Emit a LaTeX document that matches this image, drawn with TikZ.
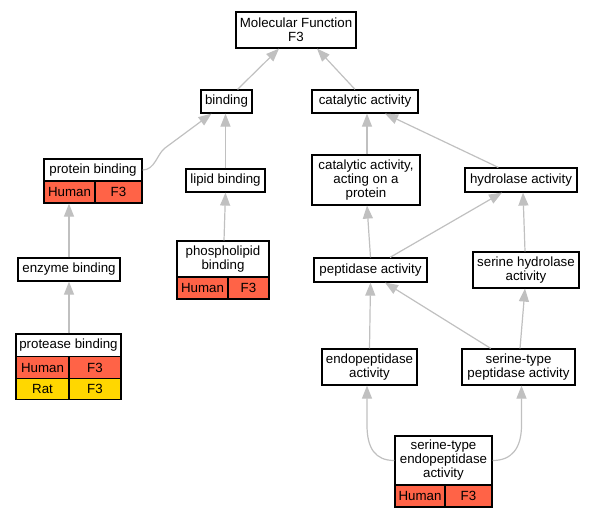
\documentclass[tikz,border=0pt]{standalone}
\usepackage{fontspec}
\setmainfont{Liberation Sans}
\usetikzlibrary{arrows.meta}
\definecolor{edgegray}{HTML}{C0C0C0}
\definecolor{tomatored}{HTML}{FF6347}
\definecolor{goldy}{HTML}{FFD700}
\begin{document}
\begin{tikzpicture}[x=1pt,y=-1pt, font=\fontsize{13.3}{14}\selectfont,
  box/.style={draw=black, line width=1.2pt, fill=white, inner sep=0pt, align=center, anchor=center},
  human/.style={box, fill=tomatored},
  rat/.style={box, fill=goldy},
  isa/.style={draw=edgegray, line width=1.2pt, -{Triangle[length=13pt,width=10pt]}}]
\useasboundingbox (0,0) rectangle (593,517);
% nodes
\node[box, minimum width=120, minimum height=36] (mf) at (296,30) {Molecular Function\\F3};
\node[box, minimum width=51, minimum height=23] (bind) at (226.5,101.5) {binding};
\node[box, minimum width=106, minimum height=23] (cat) at (365,101.5) {catalytic activity};
\node[box, minimum width=98, minimum height=22] (pbh) at (93,170) {protein binding};
\node[human, minimum width=51, minimum height=22] (pbhu) at (69.5,192) {Human};
\node[human, minimum width=47, minimum height=22] (pbf) at (118.5,192) {F3};
\node[box, minimum width=79, minimum height=23] (lip) at (225.5,180.5) {lipid binding};
\node[box, minimum width=108, minimum height=50] (cap) at (366,180) {catalytic activity,\\acting on a\\protein};
\node[box, minimum width=112, minimum height=24] (hyd) at (521,180) {hydrolase activity};
\node[box, minimum width=102, minimum height=23] (enz) at (69,269.5) {enzyme binding};
\node[box, minimum width=92, minimum height=36] (phh) at (223,259) {phospholipid\\binding};
\node[human, minimum width=51, minimum height=22] (phhu) at (202.5,288) {Human};
\node[human, minimum width=41, minimum height=22] (phf) at (248.5,288) {F3};
\node[box, minimum width=105, minimum height=23] (proh) at (68.5,345.5) {protease binding};
\node[human, minimum width=53, minimum height=21.5] (prohu) at (42.5,367.5) {Human};
\node[human, minimum width=52, minimum height=21.5] (prof) at (95,367.5) {F3};
\node[rat, minimum width=53, minimum height=21.5] (prora) at (42.5,389) {Rat};
\node[rat, minimum width=52, minimum height=21.5] (prorf) at (95,389) {F3};
\node[box, minimum width=113, minimum height=24] (pep) at (370.5,270) {peptidase activity};
\node[box, minimum width=106, minimum height=36] (serh) at (526,270) {serine hydrolase\\activity};
\node[box, minimum width=95, minimum height=36] (endo) at (369.5,367) {endopeptidase\\activity};
\node[box, minimum width=113, minimum height=36] (stp) at (518.5,367) {serine-type\\peptidase activity};
\node[box, minimum width=97, minimum height=49] (steh) at (443.5,460.5) {serine-type\\endopeptidase\\activity};
\node[human, minimum width=50, minimum height=22] (stehu) at (420,496) {Human};
\node[human, minimum width=47, minimum height=22] (stef) at (468.5,496) {F3};
% edges
\draw[isa] ([xshift=11]bind.north) -- ([xshift=-17]mf.south);
\draw[isa] ([xshift=-10]cat.north) -- ([xshift=21]mf.south);
\draw[isa] (pbh.east) .. controls (155,170) and (157,154) .. (165,148) -- ([xshift=-15]bind.south);
\draw[isa] (lip.north) -- (lip.north |- bind.south);
\draw[isa] ([xshift=1]cap.north) -- ([xshift=2]cat.south);
\draw[isa] ([xshift=-22.7]hyd.north) -- ([xshift=20]cat.south);
\draw[isa] (enz.north) -- (enz.north |- pbhu.south);
\draw[isa] ([xshift=1]phh.north) -- (lip.south);
\draw[isa] ([xshift=0.5]proh.north) -- (enz.south);
\draw[isa] (pep.north) -- ([xshift=1]cap.south);
\draw[isa] ([xshift=19.5]pep.north) -- ([xshift=-19]hyd.south);
\draw[isa] ([xshift=-1]serh.north) -- ([xshift=2]hyd.south);
\draw[isa] (endo.north) -- (pep.south);
\draw[isa] ([xshift=-27.8]stp.north) -- ([xshift=14.5]pep.south);
\draw[isa] ([xshift=1.5]stp.north) -- ([xshift=-1]serh.south);
\draw[isa] (steh.west) .. controls (375,460.5) and (367,448) .. (367,425) -- ([xshift=-2.5]endo.south);
\draw[isa] (steh.east) .. controls (512,460.5) and (521.5,448) .. (521.5,425) -- ([xshift=3]stp.south);
\end{tikzpicture}
\end{document}
